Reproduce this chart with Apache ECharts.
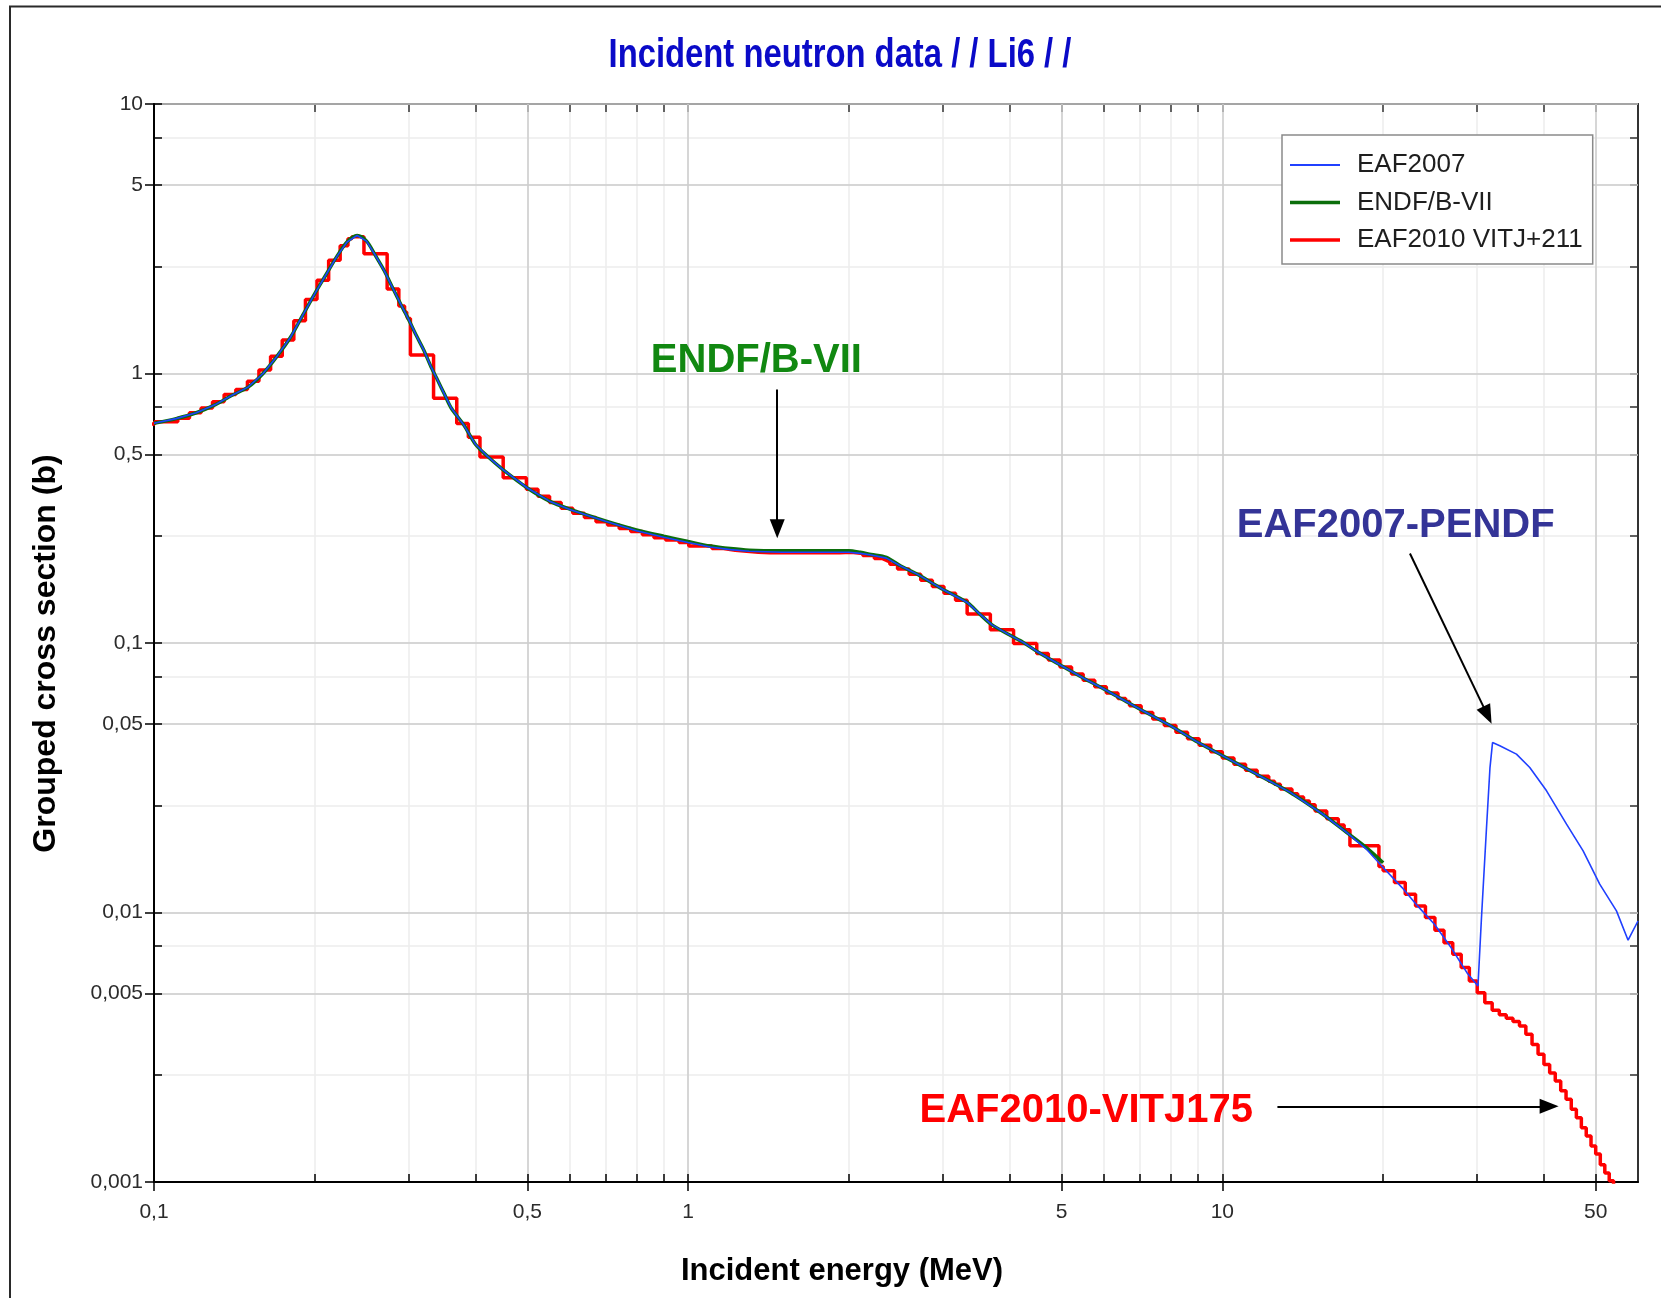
<!DOCTYPE html>
<html><head><meta charset="utf-8">
<script src="https://cdn.jsdelivr.net/npm/echarts@6/dist/echarts.min.js"></script>
<style>html,body{margin:0;padding:0;background:#fff}#c{width:1661px;height:1298px}</style>
</head><body><div id="c"></div>
<script>
// ---------- tick values ----------
const xMajor = [0.1, 0.5, 1, 5, 10, 50];
const xAll = [0.1,0.2,0.3,0.4,0.5,0.6,0.7,0.8,0.9,1,2,3,4,5,6,7,8,9,10,20,30,40,50];
const yMajor = [0.001,0.005,0.01,0.05,0.1,0.5,1,5,10];
const yAll = [0.001,0.0025,0.005,0.0075,0.01,0.025,0.05,0.075,0.1,0.25,0.5,0.75,1,2.5,5,7.5,10];

// ---------- ENDF/B-VII (smooth curve) ----------
const endfE = [0.1,0.11,0.12,0.13,0.14,0.15,0.16,0.17,0.18,0.19,0.2,0.21,0.22,0.23,0.24,0.25,0.26,0.27,0.28,0.29,0.3,0.31,0.32,0.33,0.34,0.35,0.36,0.38,0.4,0.42,0.45,0.5,0.55,0.6,0.7,0.8,0.9,1.0,1.1,1.2,1.3,1.5,2.0,2.1,2.2,2.35,2.5,2.7,2.87,3.0,3.33,3.5,3.7,4.0,4.24,4.5,5.0,5.5,6.0,7.0,8.0,9.0,10,11.6,13.4,15.4,17.1,18.6,20.0];
const endfS = [0.654,0.68,0.715,0.765,0.83,0.89,1.0,1.16,1.36,1.65,1.98,2.33,2.72,3.08,3.25,3.10,2.73,2.40,2.07,1.80,1.58,1.38,1.22,1.06,0.94,0.835,0.745,0.645,0.545,0.495,0.44,0.376,0.336,0.314,0.284,0.263,0.249,0.238,0.229,0.224,0.221,0.220,0.220,0.217,0.213,0.2077,0.193,0.179,0.1664,0.158,0.1414,0.129,0.117,0.107,0.1005,0.093,0.0823,0.074,0.0675,0.0569,0.0493,0.0428,0.0382,0.0326,0.0279,0.0232,0.0198,0.0174,0.0153];

// ---------- EAF2007 (pointwise) ----------
const eafE = [0.1,0.11,0.12,0.13,0.14,0.15,0.16,0.17,0.18,0.19,0.2,0.21,0.22,0.23,0.24,0.25,0.26,0.27,0.28,0.29,0.3,0.31,0.32,0.33,0.34,0.35,0.36,0.38,0.4,0.42,0.45,0.5,0.55,0.6,0.7,0.8,0.9,1.0,1.1,1.2,1.3,1.5,2.0,2.1,2.2,2.35,2.5,2.7,2.87,3.0,3.33,3.5,3.7,4.0,4.24,4.5,5.0,5.5,6.0,7.0,8.0,9.0,10,11.6,13.4,15.4,17.1,18.6,20.0,21.7,23.2,24.95,26.8,28.7,30.1,30.56,31.23,31.7,32.05,33.07,35.53,37.63,40.45,44.09,47.36,50.87,54.68,57.49,60];
const eafS = [0.654,0.68,0.715,0.765,0.83,0.89,1.0,1.16,1.36,1.65,1.98,2.33,2.72,3.08,3.25,3.10,2.73,2.40,2.07,1.80,1.58,1.38,1.22,1.06,0.94,0.835,0.745,0.645,0.545,0.495,0.44,0.376,0.336,0.313,0.283,0.261,0.247,0.236,0.227,0.222,0.219,0.217,0.217,0.215,0.212,0.2065,0.193,0.179,0.1664,0.158,0.1414,0.129,0.117,0.107,0.1005,0.093,0.0823,0.074,0.0675,0.0569,0.0493,0.0428,0.0382,0.0326,0.0279,0.0232,0.0198,0.0172,0.01468,0.01237,0.01058,0.00905,0.00741,0.00598,0.00534,0.00958,0.02066,0.0345,0.0427,0.04155,0.0387,0.0345,0.02828,0.02127,0.01693,0.01274,0.01014,0.00789,0.0093];

// ---------- EAF2010 VITJ+211 (group-wise, lower edges + final upper edge) ----------
const vitjEdges = [0.0962,0.1003,0.1108,0.1165,0.1225,0.1287,0.1353,0.1423,0.1496,0.1572,0.1653,0.1738,0.1827,0.1921,0.2019,0.2123,0.2231,0.2307,0.2346,0.2472,0.2732,0.2873,0.2945,0.2972,0.2985,0.3020,0.3337,0.3688,0.3877,0.4076,0.4505,0.4979,0.5234,0.5502,0.5784,0.6081,0.6393,0.6721,0.7065,0.7427,0.7808,0.8209,0.8629,0.9072,0.9616,1.0026,1.1080,1.1648,1.2246,1.2874,1.3534,1.4227,1.4957,1.5724,1.6530,1.7377,1.8268,1.9205,2.0190,2.1225,2.2313,2.3069,2.3457,2.3653,2.3851,2.4660,2.5924,2.7253,2.8650,3.0119,3.1664,3.3287,3.6788,4.0657,4.4933,4.7237,4.9659,5.2205,5.4881,5.7695,6.0653,6.3763,6.5924,6.7032,7.0469,7.4082,7.7880,8.1873,8.6071,9.0484,9.5123,10.000,10.513,11.052,11.618,12.214,12.523,12.840,13.499,13.840,14.191,14.550,14.918,15.683,16.487,16.905,17.333,19.640,20,21,22,23,24,25,26,27,28,29,30,31,32,33,34,35,36,37,38,39,40,41,42,43,44,45,46,47,48,49,50,51,52,53,54,55];
const vitjS = [0.650,0.662,0.682,0.715,0.745,0.785,0.835,0.872,0.935,1.03,1.16,1.33,1.57,1.88,2.22,2.63,2.98,3.16,3.22,2.78,2.06,1.78,1.69,1.65,1.60,1.17,0.81,0.653,0.58,0.49,0.41,0.372,0.350,0.332,0.316,0.303,0.292,0.282,0.274,0.266,0.259,0.252,0.246,0.241,0.236,0.229,0.224,0.221,0.219,0.217,0.216,0.216,0.216,0.216,0.216,0.216,0.216,0.217,0.215,0.211,0.206,0.203,0.201,0.200,0.196,0.188,0.180,0.171,0.162,0.153,0.144,0.128,0.112,0.0995,0.0915,0.0865,0.0815,0.0768,0.0727,0.0688,0.0652,0.0622,0.0606,0.0585,0.0552,0.0522,0.0494,0.0466,0.0441,0.0417,0.0395,0.0374,0.0355,0.0337,0.0320,0.0307,0.0299,0.0287,0.0276,0.0268,0.0259,0.0251,0.0238,0.0223,0.0211,0.0203,0.01767,0.0148,0.0143,0.01291,0.01169,0.01058,0.00958,0.00860,0.00773,0.00700,0.00625,0.00557,0.00504,0.00463,0.00434,0.00417,0.00405,0.00394,0.00379,0.00353,0.00324,0.00298,0.00273,0.00254,0.00237,0.00218,0.00203,0.00186,0.00173,0.00159,0.00148,0.00136,0.00127,0.00116,0.00108,0.00101,0.00094];

// ---------- annotations (data coordinates) ----------
const annText = ['ENDF/B-VII', 'EAF2007-PENDF', 'EAF2010-VITJ175'];
const annE = [1.342, 21.11, 5.561];
const annS = [1.112, 0.271, 0.001838];
const arrowFromE = [1.468, 22.45, 12.68];
const arrowFromS = [0.873, 0.2148, 0.001909];
const arrowToE = [1.468, 31.36, 40.9];
const arrowToS = [0.2655, 0.054, 0.001909];

// ---------- build ----------
const zip = (a, b) => a.map((v, i) => [v, b[i]]);
const vitjData = vitjS.map((s, i) => [vitjEdges[i], s]);
vitjData.push([vitjEdges[vitjEdges.length - 1], vitjS[vitjS.length - 1]]);

const fmt = v => String(parseFloat(Number(v).toPrecision(6))).replace('.', ',');
const ARIAL = "'Liberation Sans', Arial, Helvetica, sans-serif";
const annColors = ['#118811', '#343497', '#ff0000'];
const C_BLUE = '#2040ff', C_GREEN = '#0b6e0b', C_RED = '#ff0000';

const XR = {type: 'log', logBase: 10, min: 0.1, max: 60};
const YR = {type: 'log', logBase: 10, min: 0.001, max: 10};
const off = {show: false};

const option = {
  animation: false,
  backgroundColor: '#ffffff',
  legend: {
    orient: 'vertical', left: 1282, top: 135,
    padding: [15, 10, 9, 8], itemGap: 7.5, itemWidth: 50, itemHeight: 14,
    backgroundColor: '#ffffff', borderColor: '#8a8a8a', borderWidth: 1.5,
    symbolKeepAspect: true,
    data: [
      {name: 'EAF2007', icon: 'path://M0,0H50V2H0Z', itemStyle: {color: C_BLUE, borderWidth: 0}},
      {name: 'ENDF/B-VII', icon: 'path://M0,0H50V3.4H0Z', itemStyle: {color: C_GREEN, borderWidth: 0}},
      {name: 'EAF2010 VITJ+211', icon: 'path://M0,0H50V3.4H0Z', itemStyle: {color: C_RED, borderWidth: 0}}
    ],
    textStyle: {fontSize: 26, color: '#1e1e1e', fontFamily: ARIAL, lineHeight: 30, padding: [0, 0, 0, 12]}
  },
  graphic: [
    {
      type: 'rect', silent: true, z: 100,
      shape: {x: 10, y: 6.5, width: 2000, height: 2000},
      style: {fill: 'none', stroke: '#2a2a2a', lineWidth: 2}
    },
    {
      type: 'text', silent: true, z: 100, x: 840, y: 56, scaleX: 0.82, scaleY: 1,
      style: {text: 'Incident neutron data / / Li6 / /', fill: '#0a0ac8', font: "bold 40px 'Liberation Sans', Arial, sans-serif",
              align: 'center', verticalAlign: 'middle'}
    }
  ],
  grid: [
    {left: 154, top: 104, width: 1484, height: 1078},
    {left: 154, top: 104, width: 1484, height: 1078}
  ],
  xAxis: [
    Object.assign({}, XR, {
      gridIndex: 0, position: 'bottom', z: 1,
      name: 'Incident energy (MeV)', nameLocation: 'middle', nameGap: 74,
      nameTextStyle: {fontSize: 31, fontWeight: 'bold', color: '#000', fontFamily: ARIAL, padding: [0, 108, 0, 0]},
      axisLine: {show: true, lineStyle: {color: '#000', width: 2}},
      axisTick: {show: true, inside: false, length: 9, customValues: xMajor, lineStyle: {color: '#000', width: 1.5}},
      axisLabel: {show: true, customValues: xMajor, formatter: fmt, margin: 20, fontSize: 21, color: '#2b2b2b', fontFamily: ARIAL},
      splitLine: {show: true, lineStyle: {color: '#cdcdcd', width: 1.5}},
      minorTick: off, minorSplitLine: off
    }),
    Object.assign({}, XR, {
      gridIndex: 0, position: 'top', z: 0,
      axisLine: {show: true, lineStyle: {color: '#333', width: 2}},
      axisTick: {show: true, inside: true, length: 8, customValues: xAll, lineStyle: {color: '#333', width: 1.5}},
      axisLabel: off,
      splitLine: {show: true, lineStyle: {color: '#ececec', width: 1.5}},
      minorTick: off, minorSplitLine: off
    }),
    Object.assign({}, XR, {
      gridIndex: 1, position: 'bottom', z: 1,
      axisLine: off,
      axisTick: {show: true, inside: true, length: 8, customValues: xAll, lineStyle: {color: '#000', width: 1.5}},
      axisLabel: off, splitLine: off, minorTick: off, minorSplitLine: off
    })
  ],
  yAxis: [
    Object.assign({}, YR, {
      gridIndex: 0, position: 'left', z: 1,
      name: 'Grouped cross section (b)', nameLocation: 'middle', nameGap: 92, nameRotate: 90,
      nameTextStyle: {fontSize: 32, fontWeight: 'bold', color: '#000', fontFamily: ARIAL, padding: [0, 21, 0, 0]},
      axisLine: {show: true, lineStyle: {color: '#000', width: 2}},
      axisTick: {show: true, inside: false, length: 9, customValues: yMajor, lineStyle: {color: '#000', width: 1.5}},
      axisLabel: {show: true, customValues: yMajor, formatter: fmt, margin: 11, fontSize: 21, color: '#2b2b2b', fontFamily: ARIAL},
      splitLine: {show: true, lineStyle: {color: '#cdcdcd', width: 1.5}},
      minorTick: off, minorSplitLine: off
    }),
    Object.assign({}, YR, {
      gridIndex: 0, position: 'right', z: 0,
      axisLine: {show: true, lineStyle: {color: '#333', width: 2}},
      axisTick: {show: true, inside: true, length: 8, customValues: yAll, lineStyle: {color: '#333', width: 1.5}},
      axisLabel: off,
      splitLine: {show: true, lineStyle: {color: '#ececec', width: 1.5}},
      minorTick: off, minorSplitLine: off
    }),
    Object.assign({}, YR, {
      gridIndex: 1, position: 'left', z: 1,
      axisLine: off,
      axisTick: {show: true, inside: true, length: 8, customValues: yAll, lineStyle: {color: '#000', width: 1.5}},
      axisLabel: off, splitLine: off, minorTick: off, minorSplitLine: off
    })
  ],
  series: [
    {
      type: 'line', name: 'EAF2010 VITJ+211', xAxisIndex: 0, yAxisIndex: 0,
      step: 'end', symbol: 'none', data: vitjData,
      lineStyle: {color: C_RED, width: 3.5}, itemStyle: {color: C_RED},
      markLine: {
        silent: true, animation: false,
        symbol: ['none', 'triangle'],
        lineStyle: {color: '#000', width: 2, type: 'solid'},
        label: {show: false}, emphasis: {disabled: true},
        data: arrowFromE.map((e, i) => [
          {coord: [e, arrowFromS[i]], symbol: 'none'},
          {coord: [arrowToE[i], arrowToS[i]], symbol: 'triangle', symbolSize: [15, 19]}
        ])
      },
      markPoint: {
        silent: true, animation: false, symbol: 'circle', symbolSize: 1,
        itemStyle: {color: 'rgba(0,0,0,0)'},
        label: {show: true, position: 'inside', fontSize: 40, fontWeight: 'bold', fontFamily: ARIAL},
        data: annText.map((t, i) => ({
          coord: [annE[i], annS[i]], value: t,
          label: {formatter: t, color: annColors[i]}
        }))
      }
    },
    {
      type: 'line', name: 'ENDF/B-VII', xAxisIndex: 0, yAxisIndex: 0,
      symbol: 'none', smooth: 0.3, data: zip(endfE, endfS),
      lineStyle: {color: C_GREEN, width: 3.5}, itemStyle: {color: C_GREEN}
    },
    {
      type: 'line', name: 'EAF2007', xAxisIndex: 0, yAxisIndex: 0,
      symbol: 'none', data: zip(eafE, eafS),
      lineStyle: {color: C_BLUE, width: 1.6}, itemStyle: {color: C_BLUE}
    }
  ]
};

const chart = echarts.init(document.getElementById('c'), null, {renderer: 'canvas'});
chart.setOption(option);
</script>
</body></html>
